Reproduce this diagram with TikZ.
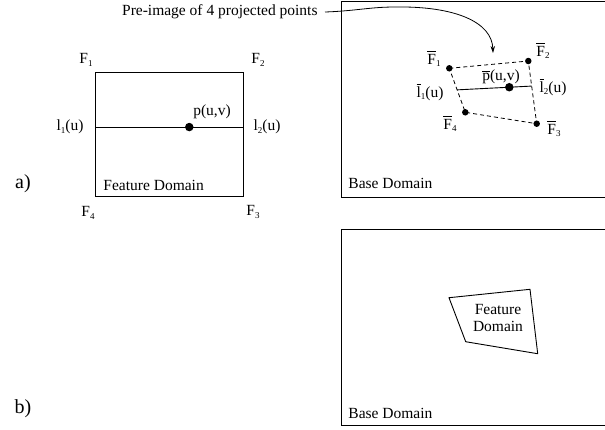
\documentclass[tikz,border=0pt]{standalone}
\usepackage{fontspec}
\setmainfont{Liberation Serif}
\usetikzlibrary{arrows.meta,calc}
\newcommand{\ovl}[1]{\leavevmode\vbox{\hrule height 1pt\kern1.6pt\hbox{#1}}}
\newcommand{\sbs}[1]{\raisebox{-0.35ex}{\fontsize{9}{9}\selectfont #1}}

\begin{document}
\begin{tikzpicture}[x=1pt,y=-1pt,>={Stealth[length=7pt,width=4.5pt]},line width=0.9pt,
  lbl/.style={font=\fontsize{15.5}{17}\selectfont,inner sep=0pt},
  big/.style={font=\fontsize{20}{22}\selectfont,inner sep=0pt},
  blob/.style={circle,fill=black,inner sep=0pt,minimum size=6.5pt},
  bigblob/.style={blob,minimum size=8.5pt},
  quad/.style={dash pattern=on 4pt off 3pt,line width=0.8pt}]
  \useasboundingbox (0,0) rectangle (605,429);

  % a) feature domain
  \coordinate (f1) at (95,72);
  \coordinate (f2) at (243,72);
  \coordinate (f3) at (243,196);
  \coordinate (f4) at (95,196);
  \draw (f1) -- (f2) -- (f3) -- (f4) -- cycle;
  \coordinate (l1) at ($(f1)!0.444!(f4)$);
  \coordinate (l2) at ($(f2)!0.444!(f3)$);
  \draw (l1) -- (l2);
  \node[bigblob] (p) at ($(l1)!0.637!(l2)$) {};
  \node[lbl] (f1lab) at (86,60) {F\sbs{1}};
  \node[lbl] (f2lab) at (258,60) {F\sbs{2}};
  \node[lbl] (f3lab) at (253,212) {F\sbs{3}};
  \node[lbl] (f4lab) at (88,213) {F\sbs{4}};
  \node[lbl] (l1lab) at (70,127) {l\sbs{1}(u)};
  \node[lbl] (l2lab) at (267,127) {l\sbs{2}(u)};
  \node[lbl] (plab) at (212,112) {p(u,v)};
  \node[lbl,anchor=west] (fdlab) at (103,185) {Feature Domain};
  \node[big] (alab) at (23,184) {a)};

  % a) base domain
  \draw (341,1) rectangle (612,197);
  \node[lbl,anchor=west] (base1) at (348,183) {Base Domain};
  \node[blob] (b1) at (449.3,68.3) {};
  \node[blob] (b2) at (528.3,61) {};
  \node[blob] (b3) at (536.7,123.7) {};
  \node[blob] (b4) at (465.3,112.3) {};
  \draw[quad] (b1.center) -- (b2.center) -- (b3.center) -- (b4.center) -- cycle;
  \coordinate (m1) at ($(b1)!0.49!(b4)$);
  \coordinate (m2) at ($(b2)!0.4!(b3)$);
  \draw (m1) -- (m2);
  \node[bigblob] (pb) at ($(m1)!0.7!(m2)$) {};
  \node[lbl] (b1lab) at (434,59) {\ovl{F}\sbs{1}};
  \node[lbl] (b2lab) at (543,51) {\ovl{F}\sbs{2}};
  \node[lbl] (b3lab) at (554,129) {\ovl{F}\sbs{3}};
  \node[lbl] (b4lab) at (450,124) {\ovl{F}\sbs{4}};
  \node[lbl] (m1lab) at (430,92) {\ovl{l}\sbs{1}(u)};
  \node[lbl] (m2lab) at (553,87) {\ovl{l}\sbs{2}(u)};
  \node[lbl] (pblab) at (501,77) {\ovl{p}(u,v)};

  \node[lbl,anchor=east] (pre) at (318,12) {Pre-image of 4 projected points};
  \coordinate (tgt) at (493,53);
  \draw[->,line width=0.8pt] ([xshift=7pt]pre.east) .. controls (355,11) and (370,7) .. (395,7)
    .. controls (455,6) and (492,22) .. (tgt);

  % b)
  \draw (341,229) rectangle (612,425);
  \node[lbl,anchor=west] (base2) at (348,413) {Base Domain};
  \coordinate (g1) at (449,297.7);
  \coordinate (g2) at (530,289.3);
  \coordinate (g3) at (537.7,353.7);
  \coordinate (g4) at (465.7,341.7);
  \draw (g1) -- (g2) -- (g3) -- (g4) -- cycle;
  \node[lbl,align=center] (fd2) at (498,317.5) {Feature\\Domain};
  \node[big] (blab) at (23,409) {b)};
\end{tikzpicture}
\end{document}
